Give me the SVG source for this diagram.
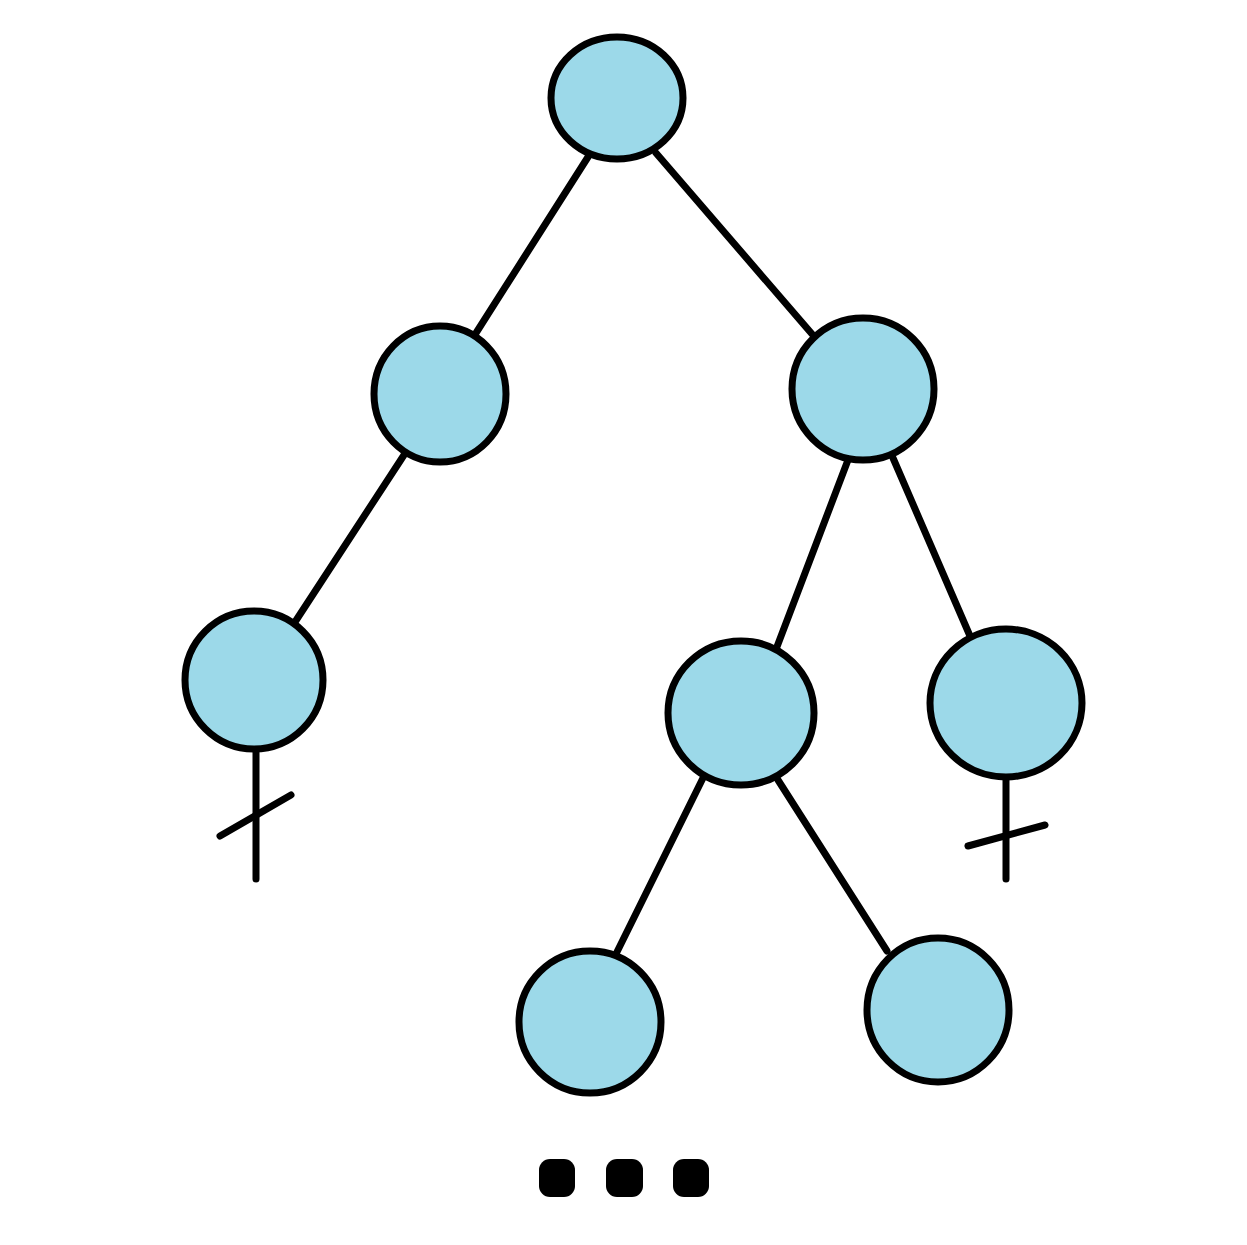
<svg xmlns="http://www.w3.org/2000/svg" width="1247" height="1245" viewBox="0 0 1247 1245">
<style>
.n{fill:#9CD9E9;stroke:#000;stroke-width:7}
.e{stroke:#000;stroke-width:7;stroke-linecap:round;fill:none}
.d{fill:#000}
</style>
<rect width="1247" height="1245" fill="#fff"/>
<g id="connectors">
<line class="e" x1="588" y1="157" x2="476" y2="333"/>
<line class="e" x1="656" y1="153" x2="812" y2="334"/>
<line class="e" x1="404" y1="455" x2="295" y2="622"/>
<line class="e" x1="848" y1="460" x2="775" y2="652"/>
<line class="e" x1="893" y1="458" x2="970" y2="636"/>
<line class="e" x1="703" y1="778" x2="613" y2="960"/>
<line class="e" x1="778" y1="780" x2="887" y2="951"/>
<line class="e" x1="256" y1="749" x2="256" y2="879"/>
<line class="e" x1="220" y1="836" x2="291" y2="795"/>
<line class="e" x1="1006" y1="777" x2="1006" y2="879"/>
<line class="e" x1="968" y1="846" x2="1045" y2="825"/>
</g>
<g id="n1"><ellipse class="n" cx="617" cy="98" rx="66" ry="61"/></g>
<g id="n2"><ellipse class="n" cx="440" cy="394" rx="66" ry="68"/></g>
<g id="n3"><ellipse class="n" cx="863" cy="389" rx="71" ry="71"/></g>
<g id="n4"><ellipse class="n" cx="254" cy="680" rx="69" ry="69"/></g>
<g id="n5"><ellipse class="n" cx="741" cy="713" rx="73" ry="72"/></g>
<g id="n6"><ellipse class="n" cx="1006" cy="703" rx="76" ry="74"/></g>
<g id="n7"><ellipse class="n" cx="590" cy="1022" rx="71" ry="71"/></g>
<g id="n8"><ellipse class="n" cx="938" cy="1010" rx="71" ry="72"/></g>
<g id="dots">
<rect class="d" x="539" y="1159" width="36" height="38" rx="11"/>
<rect class="d" x="606" y="1159" width="37" height="38" rx="11"/>
<rect class="d" x="673" y="1159" width="36" height="38" rx="11"/>
</g>
</svg>
